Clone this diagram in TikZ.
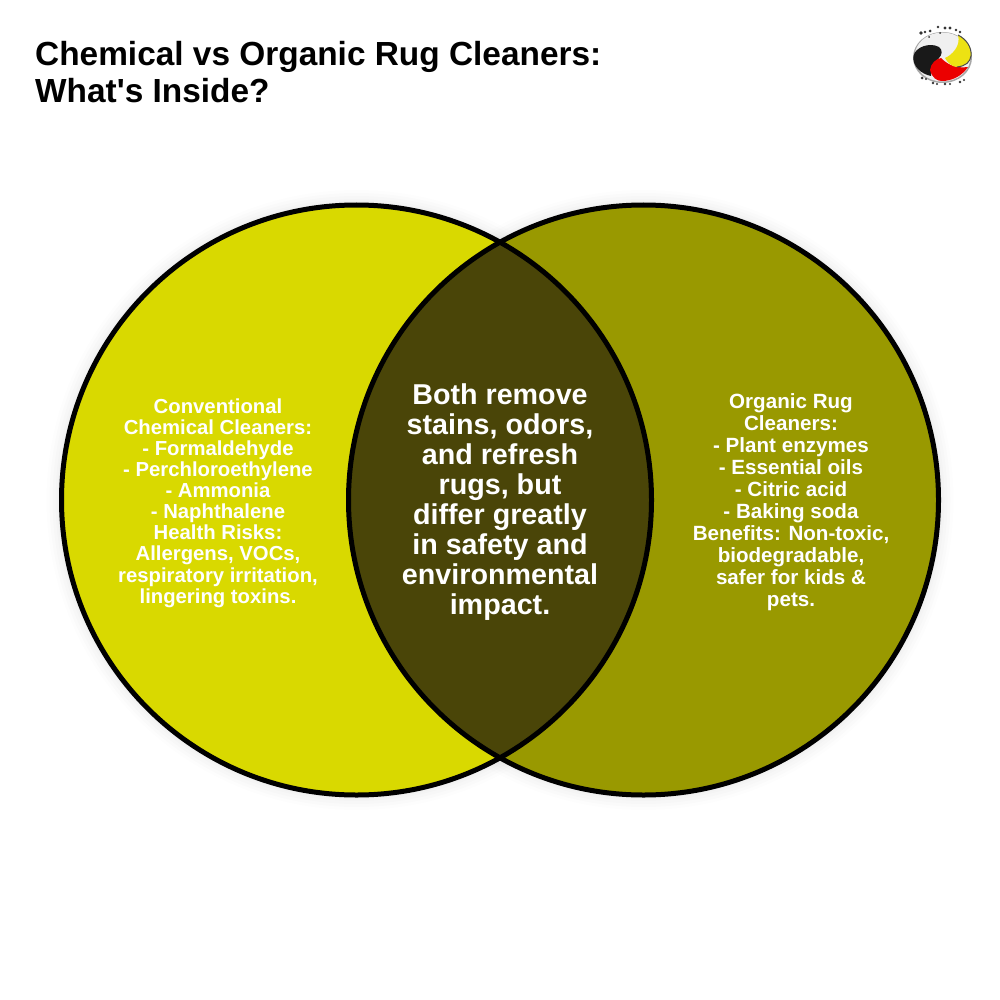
\documentclass[tikz,border=0pt]{standalone}
\usepackage{fontspec}
\setmainfont[Ligatures=TeXOff]{Liberation Sans}
\definecolor{leftc}{HTML}{D9D900}
\definecolor{rightc}{HTML}{999900}
\definecolor{midc}{HTML}{4A4508}
\tikzset{
  x=1pt,y=-1pt,
  ring/.style={draw=black,line width=5pt},
  lefttextstyle/.style={text=white,font=\bfseries\fontsize{20.3}{21.1}\selectfont,align=center},
  righttextstyle/.style={text=white,font=\bfseries\fontsize{20.6}{22}\selectfont,align=center},
  midtextstyle/.style={text=white,font=\bfseries\fontsize{28.7}{30}\selectfont,align=center},
  titletext/.style={text=black,font=\bfseries\fontsize{33.4}{37}\selectfont,align=left,anchor=north west,inner sep=0pt},
  speck/.style={fill=black!80,draw=none}
}
\begin{document}
\begin{tikzpicture}
\useasboundingbox (0,0) rectangle (1000,1000);
\fill[white] (0,0) rectangle (1000,1000);
% soft shadow
\foreach \w/\o in {30/0.008,24/0.01,18/0.012,12/0.012,8/0.012}{
  \draw[black,opacity=\o,line width=\w pt] (356.5,500) circle[radius=295];
  \draw[black,opacity=\o,line width=\w pt] (643.5,500) circle[radius=295];
}
\fill[leftc] (356.5,500) circle[radius=295];
\fill[rightc] (643.5,500) circle[radius=295];
\begin{scope}
  \clip (356.5,500) circle[radius=295];
  \fill[midc] (643.5,500) circle[radius=295];
\end{scope}
\draw[ring] (356.5,500) circle[radius=295];
\draw[ring] (643.5,500) circle[radius=295];
\node[titletext] (title) at (35,41) {Chemical vs Organic Rug Cleaners:\\What's Inside?};
\node[lefttextstyle] (lefttext) at (218,503) {Conventional\\Chemical Cleaners:\\- Formaldehyde\\- Perchloroethylene\\- Ammonia\\- Naphthalene\\Health Risks:\\Allergens, VOCs,\\respiratory irritation,\\lingering toxins.};
\node[midtextstyle] (midtext) at (500,502) {Both remove\\stains, odors,\\and refresh\\rugs, but\\differ greatly\\in safety and\\environmental\\impact.};
\node[righttextstyle] (righttext) at (791,502) {Organic Rug\\Cleaners:\\- Plant enzymes\\- Essential oils\\- Citric acid\\- Baking soda\\Benefits: Non-toxic,\\biodegradable,\\safer for kids \&\\pets.};
% logo
\fill[black!35] (942.5,57.5) ellipse[x radius=29.5,y radius=25.5];
\fill[white!88!gray] (942.5,57) ellipse[x radius=28,y radius=24.5];
\fill[black!90] (913.5,56) .. controls (915,47) and (930,42) .. (939,47) .. controls (943,50) and (942,55) .. (939,58) .. controls (934,62) and (931,68) .. (931,76) .. controls (921,74) and (912,66) .. (913.5,56) -- cycle;
\fill[red!92!black] (930,70) .. controls (931,63) and (936,59) .. (941,58) .. controls (946,63) and (954,69) .. (968,67) .. controls (962,76) and (952,81) .. (942,81) .. controls (937,81) and (932,78) .. (930,70) -- cycle;
\fill[yellow!92!black] (958,35) .. controls (966,39) and (972,47) .. (971,56) .. controls (970,62) and (966,66) .. (957,67) .. controls (952,67) and (947,62) .. (945,58) .. controls (952,55) and (961,46) .. (958,35) -- cycle;
\draw[black!70,line width=1pt] (958,35) .. controls (966,39) and (972,47) .. (971,56) .. controls (970,62) and (966,66) .. (957,67);
\foreach \x/\y/\r in {921/33/1.8,925/32/1.4,930/31/1.5,938/27/1.4,945/28/1.7,950/28/1.6,956/30/1.3,960/32/1.3,922/78/1.5,926/79/1.1,933/83/1.3,937/84/1.1,945/84/1.4,950/84/1.1,960/82/1.4,964/80/1.1,929/37/1,940/33/1}{
  \fill[speck] (\x,\y) circle[radius=\r];
}
\end{tikzpicture}
\end{document}
